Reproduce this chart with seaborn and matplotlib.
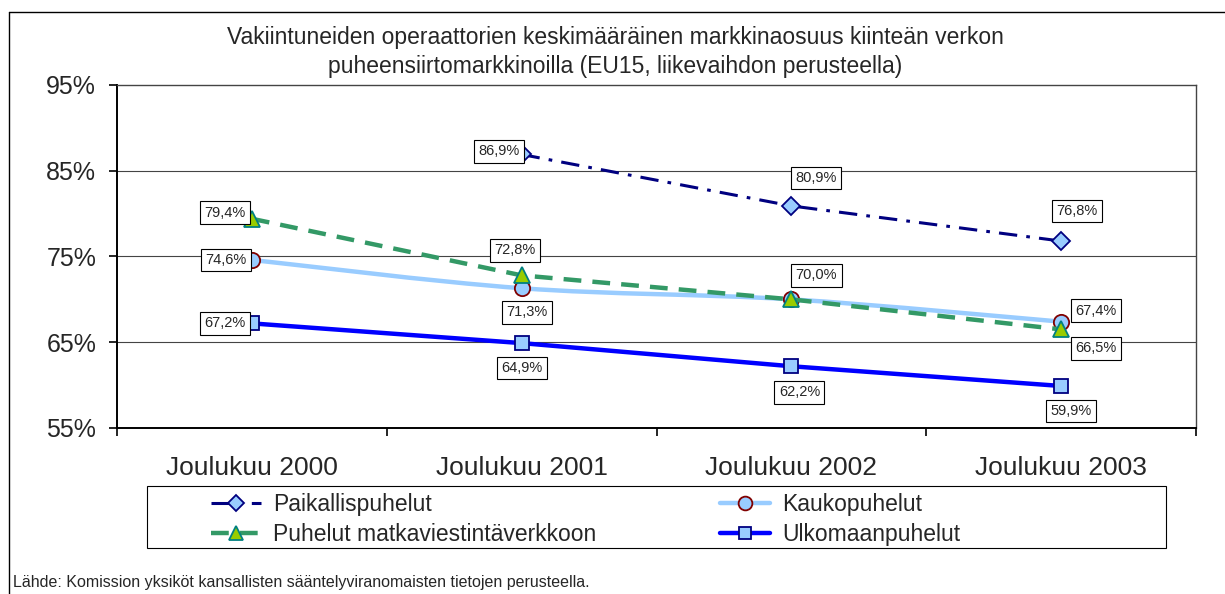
import numpy as np
import pandas as pd
import seaborn as sns
import matplotlib.pyplot as plt
from matplotlib.lines import Line2D
from matplotlib.path import Path
from matplotlib.patches import PathPatch, Rectangle

# Data
categories = ["Joulukuu 2000", "Joulukuu 2001", "Joulukuu 2002", "Joulukuu 2003"]
paikallis = [np.nan, 86.9, 80.9, 76.8]
kauko = [74.6, 71.3, 70.0, 67.4]
matka = [79.4, 72.8, 70.0, 66.5]
ulkomaan = [67.2, 64.9, 62.2, 59.9]
series_names = ["Paikallispuhelut", "Kaukopuhelut", "Puhelut matkaviestintäverkkoon", "Ulkomaanpuhelut"]
yticks = [55, 65, 75, 85, 95]

title = ("Vakiintuneiden operaattorien keskimääräinen markkinaosuus kiinteän verkon\n"
         "puheensiirtomarkkinoilla (EU15, liikevaihdon perusteella)")
source = "Lähde: Komission yksiköt kansallisten sääntelyviranomaisten tietojen perusteella."

sns.set_theme(style="white")
plt.rcParams['font.family'] = ['Liberation Sans', 'DejaVu Sans']

fig = plt.figure(figsize=(12.25, 5.94), dpi=100)
ax = fig.add_axes([117/1225, 1-428/594, (1196-117)/1225, (428-85)/594])

x = np.arange(len(categories))

# styles per series
styles = {
    "Paikallispuhelut": dict(color="#000080", lw=2.2, ls=(0, (6, 3, 1.2, 3)), marker="D",
                             mfc="#99CCFF", mec="#000080", ms=9),
    "Kaukopuhelut": dict(color="#99CCFF", lw=3.2, ls="-", marker="o",
                         mfc="#99CCFF", mec="#800000", ms=11),
    "Puhelut matkaviestintäverkkoon": dict(color="#339966", lw=3.2, ls=(0, (4, 2.5)), marker="^",
                                           mfc="#99CC00", mec="#008080", ms=11),
    "Ulkomaanpuhelut": dict(color="#0000FF", lw=3.2, ls="-", marker="s",
                            mfc="#99CCFF", mec="#000080", ms=10),
}
values = {"Paikallispuhelut": paikallis, "Kaukopuhelut": kauko,
          "Puhelut matkaviestintäverkkoon": matka, "Ulkomaanpuhelut": ulkomaan}
smoothed = {"Kaukopuhelut"}

# label offsets in pixels (dx, dy) for each point
offsets = {
    "Paikallispuhelut": [None, (-23, 3), (25, 28), (16, 30)],
    "Kaukopuhelut": [(-26, 0), (5, -24), (25, 24), (35, 11)],
    "Puhelut matkaviestintäverkkoon": [(-27, 6), (-7, 25), None, (35, -19)],
    "Ulkomaanpuhelut": [(-27, 0), (0, -25), (8, -26), (10, -25)],
}


def smooth_path(xs, ys):
    # Excel-style smoothed line: cubic bezier through the points
    pts = np.column_stack([xs, ys])
    ext = np.vstack([pts[0], pts, pts[-1]])
    verts = [tuple(pts[0])]
    codes = [Path.MOVETO]
    for i in range(len(pts) - 1):
        p0, p1, p2, p3 = ext[i], ext[i + 1], ext[i + 2], ext[i + 3]
        c1 = p1 + (p2 - p0) / 6
        c2 = p2 - (p3 - p1) / 6
        verts += [tuple(c1), tuple(c2), tuple(p2)]
        codes += [Path.CURVE4] * 3
    return Path(verts, codes)


handles = {}
for name in ["Ulkomaanpuhelut", "Kaukopuhelut", "Puhelut matkaviestintäverkkoon", "Paikallispuhelut"]:
    st = styles[name]
    df = pd.DataFrame({"x": x, "y": values[name]}).dropna()
    if name in smoothed:
        ax.add_patch(PathPatch(smooth_path(df["x"].values, df["y"].values), fill=False,
                               ec=st["color"], lw=st["lw"], zorder=3, capstyle="butt"))
        line_ls = "none"
    else:
        line_ls = st["ls"]
    sns.lineplot(data=df, x="x", y="y", ax=ax, color=st["color"], lw=st["lw"],
                 linestyle=line_ls, marker=st["marker"], markerfacecolor=st["mfc"],
                 markeredgecolor=st["mec"], markersize=st["ms"], markeredgewidth=1.3,
                 zorder=3)
    handles[name] = Line2D([], [], color=st["color"], lw=st["lw"], linestyle=st["ls"],
                           marker=st["marker"], markerfacecolor=st["mfc"],
                           markeredgecolor=st["mec"], markersize=st["ms"] * 0.9,
                           markeredgewidth=1.3)

for name in series_names:
    for xi, v, off in zip(x, values[name], offsets[name]):
        if off is None or np.isnan(v):
            continue
        ax.annotate(f"{v:.1f}%".replace(".", ","), (xi, v), xytext=off,
                    textcoords="offset pixels", ha="center", va="center", fontsize=10.5,
                    bbox=dict(boxstyle="square,pad=0.3", fc="white", ec="black", lw=0.8),
                    zorder=5)

ax.set_xlim(-0.5, 3.5)
ax.set_ylim(55, 95)
ax.set_yticks(yticks)
ax.set_yticklabels([f"{t}%" for t in yticks], fontsize=18)
ax.set_xticks(x)
ax.set_xticklabels(categories, fontsize=19)
ax.set_xticks(np.arange(-0.5, 4.0, 1.0), minor=True)
ax.tick_params(axis="x", which="major", length=0, pad=20)
ax.tick_params(axis="x", which="minor", length=6, width=1.2, color="black", direction="out", bottom=True)
ax.tick_params(axis="y", which="major", length=6, width=1.2, color="black", direction="out", left=True, pad=9)
ax.set_xlabel("")
ax.set_ylabel("")

for yv in [65, 75, 85]:
    ax.axhline(yv, color="#444444", lw=0.8, zorder=1)

ax.spines["left"].set_color("black")
ax.spines["left"].set_linewidth(1.4)
ax.spines["bottom"].set_color("black")
ax.spines["bottom"].set_linewidth(1.4)
ax.spines["top"].set_color("#444444")
ax.spines["top"].set_linewidth(1.0)
ax.spines["right"].set_color("#444444")
ax.spines["right"].set_linewidth(1.0)

fig.text(615/1225, 1-52/594, title, ha="center", va="center", fontsize=16.5, linespacing=1.3)

# legend: frame drawn separately, two single-column legends inside it
fig.add_artist(Rectangle((147/1225, 1-548/594), (1166-147)/1225, 62/594, transform=fig.transFigure,
                         fill=False, ec="black", lw=0.8))
leg_cols = [["Paikallispuhelut", "Puhelut matkaviestintäverkkoon"], ["Kaukopuhelut", "Ulkomaanpuhelut"]]
leg_x = [211/1225, 720/1225]
for names, lx in zip(leg_cols, leg_x):
    fig.legend([handles[n] for n in names], names, loc="upper left",
               bbox_to_anchor=(lx, 1-493/594), fontsize=16.5, frameon=False,
               handlelength=2.2, handletextpad=0.5, borderpad=0, borderaxespad=0,
               labelspacing=0.3)

fig.text(13/1225, 1-583/594, source, ha="left", va="center", fontsize=11.5)

# outer frame (top and left visible)
fig.add_artist(Line2D([9/1225, 9/1225], [0, 1-12/594], color="black", lw=1.0, transform=fig.transFigure))
fig.add_artist(Line2D([9/1225, 1], [1-12/594, 1-12/594], color="black", lw=1.0, transform=fig.transFigure))

fig.savefig("out.png", dpi=100)
